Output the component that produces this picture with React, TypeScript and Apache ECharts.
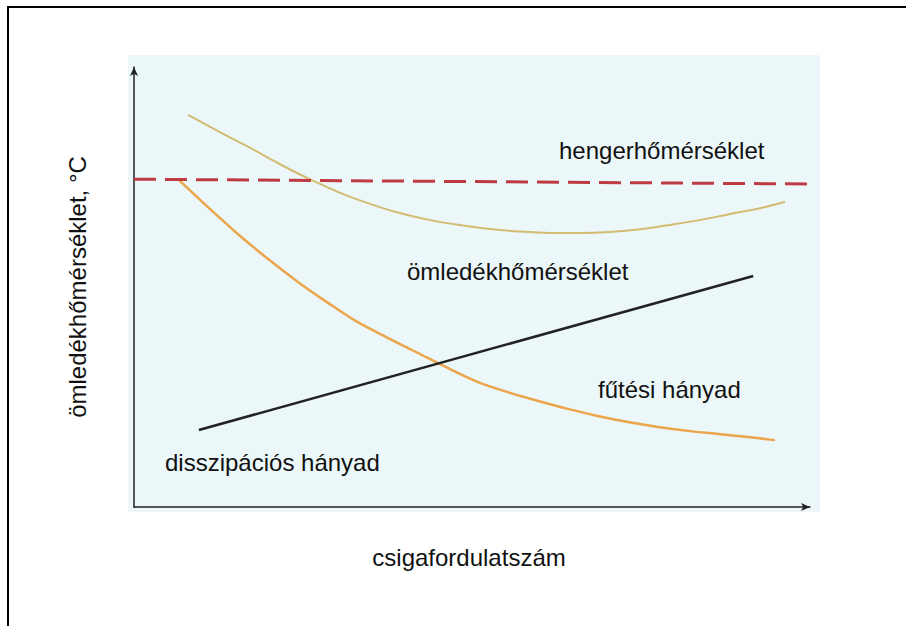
import React, { useEffect, useRef } from 'react';
import * as echarts from 'echarts';

// ---- data (abstract units 0..100 on both axes) ----
const xAxisTitle = 'csigafordulatszám';
const yAxisTitle = 'ömledékhőmérséklet, °C';

const barrelTemp: number[][] = [
  [0, 74.5],
  [101, 73.4],
];

const meltTemp: number[][] = [
  [8.0, 89.1],
  [12.7, 85.2],
  [17.2, 81.6],
  [21.6, 77.9],
  [26.0, 74.5],
  [30.5, 71.4],
  [34.9, 68.9],
  [39.3, 66.8],
  [43.8, 65.2],
  [48.2, 64.1],
  [52.7, 63.2],
  [57.1, 62.6],
  [61.5, 62.3],
  [66.0, 62.3],
  [70.4, 62.5],
  [74.9, 63.1],
  [79.3, 64.1],
  [83.7, 65.2],
  [88.2, 66.6],
  [92.6, 67.9],
  [96.3, 69.3],
];

const heatingShare: number[][] = [
  [6.5, 74.5],
  [10.9, 68.2],
  [15.4, 62.0],
  [19.8, 56.4],
  [24.3, 51.1],
  [28.7, 46.4],
  [33.1, 42.0],
  [37.6, 38.4],
  [42.0, 35.0],
  [46.4, 31.6],
  [50.9, 28.4],
  [55.3, 26.1],
  [59.8, 24.1],
  [64.2, 22.3],
  [68.6, 20.7],
  [73.1, 19.3],
  [77.5, 18.2],
  [82.0, 17.3],
  [86.4, 16.6],
  [90.8, 15.9],
  [94.8, 15.2],
];

const dissipationShare: number[][] = [
  [9.6, 17.5],
  [91.6, 52.5],
];

const seriesNames = [
  'hengerhőmérséklet',
  'ömledékhőmérséklet',
  'fűtési hányad',
  'disszipációs hányad',
];

const FONT = "'Liberation Sans', Arial, sans-serif";

export default function App() {
  const ref = useRef<HTMLDivElement>(null);

  useEffect(() => {
    if (!ref.current) return;
    const chart = echarts.init(ref.current, undefined, { renderer: 'svg' });

    const label = (x: number, y: number, text: string) => ({
      type: 'text',
      x,
      y,
      z: 10,
      silent: true,
      style: {
        text,
        fill: '#111',
        font: `24px ${FONT}`,
        align: 'left',
        verticalAlign: 'middle',
      },
    });

    chart.setOption({
      animation: false,
      backgroundColor: '#ffffff',
      grid: { left: 134, right: 96, top: 67, bottom: 119 },
      xAxis: {
        type: 'value',
        min: 0,
        max: 100,
        name: xAxisTitle,
        nameLocation: 'middle',
        nameGap: 50,
        nameTextStyle: {
          fontSize: 24,
          fontFamily: FONT,
          color: '#111',
          verticalAlign: 'middle',
          padding: [0, 6, 0, 0],
        },
        axisLine: {
          show: true,
          symbol: ['none', 'arrow'],
          symbolSize: [6, 9],
          lineStyle: { color: '#222', width: 1.5 },
        },
        axisTick: { show: false },
        axisLabel: { show: false },
        splitLine: { show: false },
      },
      yAxis: {
        type: 'value',
        min: 0,
        max: 100,
        name: yAxisTitle,
        nameLocation: 'middle',
        nameRotate: 90,
        nameGap: 57,
        nameTextStyle: {
          fontSize: 24,
          fontFamily: FONT,
          color: '#111',
          verticalAlign: 'middle',
          align: 'center',
        },
        axisLine: {
          show: true,
          symbol: ['none', 'arrow'],
          symbolSize: [6, 9],
          lineStyle: { color: '#222', width: 1.5 },
        },
        axisTick: { show: false },
        axisLabel: { show: false },
        splitLine: { show: false },
      },
      graphic: [
        {
          type: 'rect',
          z: -10,
          silent: true,
          shape: { x: 128, y: 55, width: 692, height: 457 },
          style: { fill: '#ecf7f9' },
        },
        {
          type: 'polyline',
          z: 10,
          silent: true,
          shape: { points: [[8, 626], [8, 7], [906, 7]] },
          style: { stroke: '#000', lineWidth: 2, fill: 'none' },
        },
        label(559, 150, seriesNames[0]),
        label(407, 271, seriesNames[1]),
        label(598, 389, seriesNames[2]),
        label(165, 462, seriesNames[3]),
      ],
      series: [
        {
          name: seriesNames[0],
          type: 'line',
          data: barrelTemp,
          clip: false,
          symbol: 'none',
          lineStyle: { color: '#bf3b42', width: 3, type: [22, 9] },
          z: 3,
        },
        {
          name: seriesNames[1],
          type: 'line',
          data: meltTemp,
          smooth: 0.3,
          symbol: 'none',
          lineStyle: { color: '#d3bb72', width: 2 },
          z: 2,
        },
        {
          name: seriesNames[2],
          type: 'line',
          data: heatingShare,
          smooth: 0.3,
          symbol: 'none',
          lineStyle: { color: '#eba54b', width: 2.5 },
          z: 2,
        },
        {
          name: seriesNames[3],
          type: 'line',
          data: dissipationShare,
          symbol: 'none',
          lineStyle: { color: '#222', width: 2.5 },
          z: 2,
        },
      ],
    });

    return () => chart.dispose();
  }, []);

  return (
    <div
      ref={ref}
      style={{ position: 'absolute', left: 0, top: 0, width: 906, height: 626 }}
    />
  );
}
